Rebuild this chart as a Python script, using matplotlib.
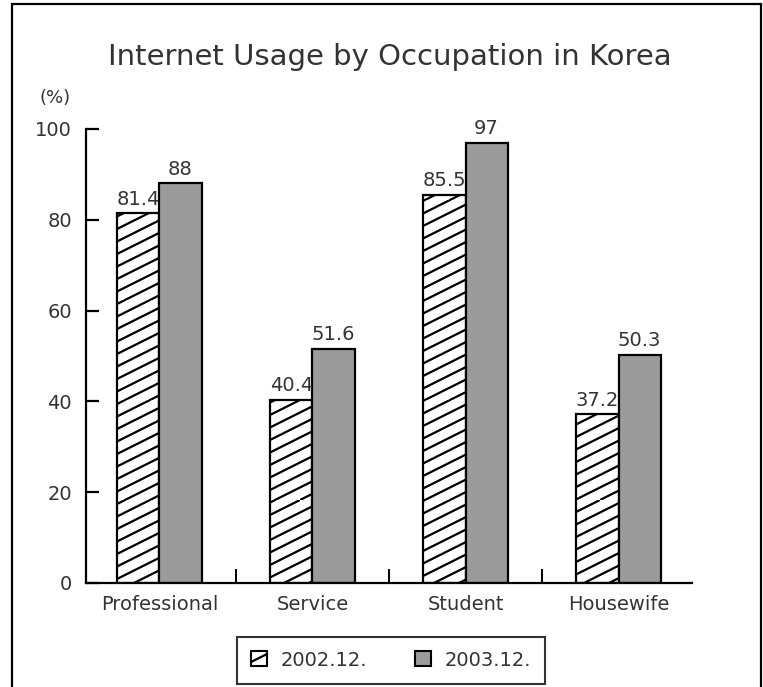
import numpy as np
import matplotlib
matplotlib.use("Agg")
import matplotlib.pyplot as plt
import matplotlib.hatch as mhatch
from matplotlib.path import Path
from matplotlib.patches import Rectangle

# ---- data ----
categories = ["Professional", "Service", "Student", "Housewife"]
series_names = ["2002.12.", "2003.12."]
values_2002 = [81.4, 40.4, 85.5, 37.2]
values_2003 = [88, 51.6, 97, 50.3]
value_labels_2002 = ["81.4", "40.4", "85.5", "37.2"]
value_labels_2003 = ["88", "51.6", "97", "50.3"]
yticks = [0, 20, 40, 60, 80, 100]
title = "Internet Usage by Occupation in Korea"


# ---- custom shallow hatch replacing '/' ----
class ShallowHatch(mhatch.HatchPatternBase):
    def __init__(self, hatch, density):
        segs = []
        if '/' in hatch:
            n, s = 8, 0.5
            for k in range(-n, n + 1):
                c = k / n
                x0, x1 = 0.0, 1.0
                y0, y1 = c, s + c
                if y1 <= 0 or y0 >= 1:
                    continue
                if y0 < 0:
                    x0 = -c / s
                    y0 = 0.0
                if y1 > 1:
                    x1 = (1 - c) / s
                    y1 = 1.0
                segs.append(((x0, y0), (x1, y1)))
        self.segs = segs
        self.num_vertices = 2 * len(segs)

    def set_vertices_and_codes(self, vertices, codes):
        for i, (a, b) in enumerate(self.segs):
            vertices[2 * i] = a
            vertices[2 * i + 1] = b
            codes[2 * i] = Path.MOVETO
            codes[2 * i + 1] = Path.LINETO


mhatch._hatch_types = [ShallowHatch if t is mhatch.NorthEastHatch else t
                       for t in mhatch._hatch_types]

plt.rcParams['font.family'] = ['DejaVu Sans']
plt.rcParams['hatch.linewidth'] = 1.6
TXT = '#333333'
FS = 14

fig = plt.figure(figsize=(7.63, 6.87), dpi=100)
ax = fig.add_axes([86 / 763, 104 / 687, (692 - 86) / 763, (583 - 129) / 687])

x = np.arange(len(categories))
w = 0.275
b1 = ax.bar(x - w / 2, values_2002, w, facecolor='white', edgecolor='black',
            linewidth=1.6, hatch='/', label=series_names[0])
b2 = ax.bar(x + w / 2, values_2003, w, facecolor='#9b9b9b', edgecolor='black',
            linewidth=1.6, label=series_names[1])

for rect, lab in zip(b1, value_labels_2002):
    ax.text(rect.get_x() + rect.get_width() / 2, rect.get_height() + 1.0, lab,
            ha='center', va='bottom', fontsize=FS, color=TXT, clip_on=False)
for rect, lab in zip(b2, value_labels_2003):
    ax.text(rect.get_x() + rect.get_width() / 2, rect.get_height() + 1.0, lab,
            ha='center', va='bottom', fontsize=FS, color=TXT, clip_on=False)

ax.set_xlim(-0.48, len(categories) - 0.52)
ax.set_ylim(0, 100)
ax.set_yticks(yticks)
ax.set_yticklabels([str(t) for t in yticks])
ax.set_xticks(x)
ax.set_xticklabels(categories)
ax.set_xticks(x[:-1] + 0.5, minor=True)

for sp in ['top', 'right']:
    ax.spines[sp].set_visible(False)
for sp in ['left', 'bottom']:
    ax.spines[sp].set_linewidth(1.6)

ax.tick_params(axis='y', direction='in', length=9, width=1.6, pad=10,
               labelsize=FS, labelcolor=TXT)
ax.tick_params(axis='x', which='major', length=0, pad=9, labelsize=FS,
               labelcolor=TXT)
ax.tick_params(axis='x', which='minor', direction='in', length=10, width=1.4)

fig.text(390 / 763, 1 - 57 / 687, title, ha='center', va='center',
         fontsize=21, color=TXT)
fig.text(55 / 763, 1 - 98 / 687, "(%)", ha='center', va='center',
         fontsize=13, color=TXT)

leg = fig.legend(handles=[b1, b2], labels=series_names, ncol=2,
                 loc='center', bbox_to_anchor=(391 / 763, 1 - 660 / 687),
                 fontsize=FS, frameon=True, fancybox=False, edgecolor='black',
                 handlelength=0.82, handleheight=0.82, handletextpad=0.7,
                 columnspacing=2.5, borderpad=0.72, labelcolor=TXT)
leg.get_frame().set_linewidth(1.5)
for p in leg.get_patches():
    p.set_linewidth(1.5)

border = Rectangle((12 / 763, -0.05), (761 - 12) / 763, 1.05 - 4 / 687,
                   transform=fig.transFigure, fill=False, edgecolor='black',
                   linewidth=1.6)
fig.add_artist(border)

fig.savefig('out.png', dpi=100)
